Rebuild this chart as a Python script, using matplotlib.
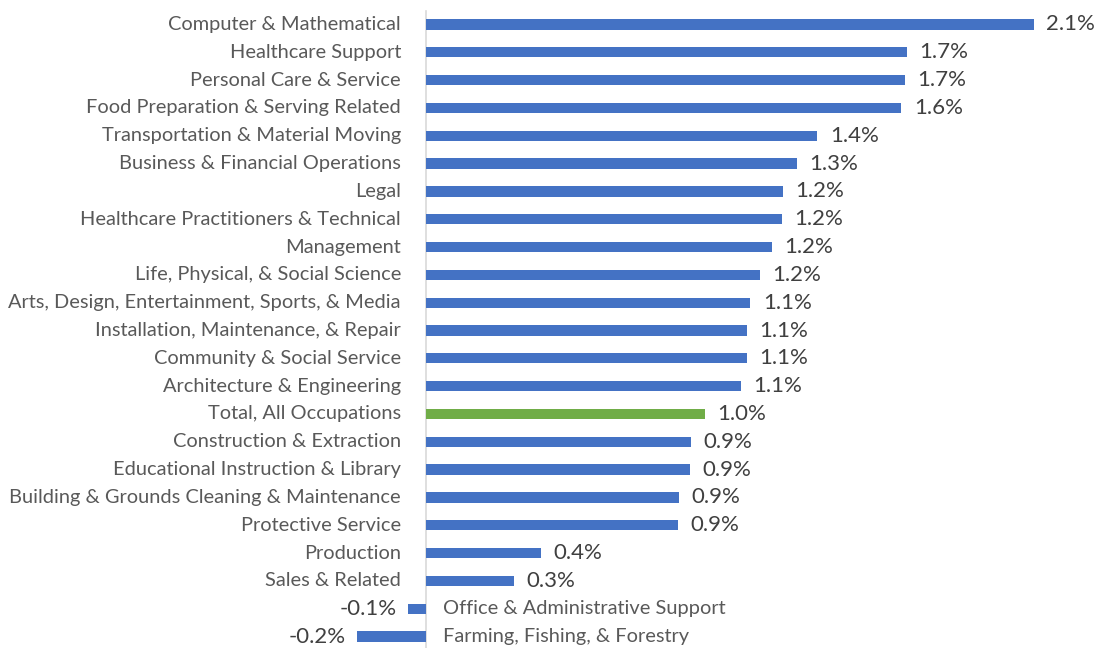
import matplotlib
matplotlib.use("Agg")
import matplotlib.pyplot as plt

categories = [
    "Computer & Mathematical",
    "Healthcare Support",
    "Personal Care & Service",
    "Food Preparation & Serving Related",
    "Transportation & Material Moving",
    "Business & Financial Operations",
    "Legal",
    "Healthcare Practitioners & Technical",
    "Management",
    "Life, Physical, & Social Science",
    "Arts, Design, Entertainment, Sports, & Media",
    "Installation, Maintenance, & Repair",
    "Community & Social Service",
    "Architecture & Engineering",
    "Total, All Occupations",
    "Construction & Extraction",
    "Educational Instruction & Library",
    "Building & Grounds Cleaning & Maintenance",
    "Protective Service",
    "Production",
    "Sales & Related",
    "Office & Administrative Support",
    "Farming, Fishing, & Forestry",
]
values = [2.10, 1.66, 1.653, 1.642, 1.352, 1.28, 1.233, 1.23, 1.195, 1.154,
          1.12, 1.109, 1.109, 1.088, 0.964, 0.915, 0.912, 0.874, 0.870,
          0.397, 0.304, -0.062, -0.238]
highlight = "Total, All Occupations"

BLUE = "#4472C4"
GREEN = "#70AD47"
FONT = ["Lato", "DejaVu Sans"]

fig = plt.figure(figsize=(11, 6.48), dpi=100)
ax = fig.add_axes([0, 0, 1, 1])
px_per_unit = 289.5
x0 = 426
ax.set_xlim(-x0 / px_per_unit, (1100 - x0) / px_per_unit)
row = 27.82
top = 24.5
ax.set_ylim((648 - top) / row, -top / row)
ax.axis("off")

y = list(range(len(categories)))
colors = [GREEN if c == highlight else BLUE for c in categories]
ax.barh(y, values, height=0.37, color=colors, zorder=2)
ax.plot([0, 0], [-0.5, (648 - top) / row], color="#d9d9d9", lw=1.2, zorder=1)

for yi, cat, v in zip(y, categories, values):
    lab = f"{v:.1f}%"
    if v >= 0:
        ax.annotate(cat, (0, yi), xytext=(-18, 0), textcoords="offset points",
                    ha="right", va="center", fontsize=14.4, color="#595959",
                    family=FONT)
        ax.annotate(lab, (v, yi), xytext=(9, 0), textcoords="offset points",
                    ha="left", va="center", fontsize=16, color="#404040",
                    family=FONT)
    else:
        ax.annotate(cat, (0, yi), xytext=(12, 0), textcoords="offset points",
                    ha="left", va="center", fontsize=14.4, color="#595959",
                    family=FONT)
        ax.annotate(lab, (v, yi), xytext=(-8, 0), textcoords="offset points",
                    ha="right", va="center", fontsize=16, color="#404040",
                    family=FONT)

fig.savefig("out.png", dpi=100)
